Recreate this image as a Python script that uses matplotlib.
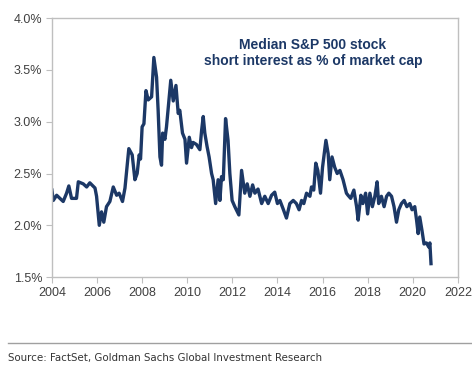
import matplotlib.pyplot as plt
from matplotlib.lines import Line2D

# median S&P 500 stock short interest, % of market cap
years = [2004.00, 2004.06, 2004.21, 2004.50, 2004.65, 2004.75, 2004.87, 2005.09, 2005.17,
         2005.39, 2005.54, 2005.68, 2005.91, 2005.98, 2006.10, 2006.20, 2006.30, 2006.42,
         2006.57, 2006.72, 2006.87, 2006.98, 2007.13, 2007.24, 2007.41, 2007.56, 2007.68,
         2007.78, 2007.87, 2007.93, 2008.00, 2008.08, 2008.17, 2008.27, 2008.42, 2008.52,
         2008.64, 2008.71, 2008.79, 2008.86, 2008.91, 2009.01, 2009.08, 2009.23, 2009.27,
         2009.38, 2009.50, 2009.60, 2009.67, 2009.79, 2009.90, 2009.97, 2010.09, 2010.19,
         2010.26, 2010.41, 2010.56, 2010.64, 2010.71, 2010.78, 2010.88, 2010.97, 2011.08,
         2011.15, 2011.26, 2011.37, 2011.45, 2011.52, 2011.60, 2011.70, 2011.81, 2011.89,
         2011.99, 2012.11, 2012.29, 2012.41, 2012.55, 2012.66, 2012.78, 2012.90, 2013.00,
         2013.14, 2013.30, 2013.44, 2013.59, 2013.74, 2013.88, 2014.00, 2014.11, 2014.25,
         2014.40, 2014.55, 2014.70, 2014.84, 2014.96, 2015.07, 2015.17, 2015.29, 2015.44,
         2015.51, 2015.61, 2015.70, 2015.79, 2015.91, 2016.00, 2016.15, 2016.25, 2016.32,
         2016.42, 2016.54, 2016.65, 2016.77, 2016.91, 2017.06, 2017.13, 2017.25, 2017.39,
         2017.51, 2017.58, 2017.70, 2017.79, 2017.91, 2018.00, 2018.10, 2018.21, 2018.32,
         2018.42, 2018.49, 2018.61, 2018.73, 2018.84, 2018.94, 2019.06, 2019.17, 2019.28,
         2019.38, 2019.50, 2019.62, 2019.74, 2019.87, 2019.97, 2020.09, 2020.17, 2020.24,
         2020.31, 2020.41, 2020.50, 2020.61, 2020.71, 2020.76, 2020.81]
short_int = [2.34, 2.24, 2.29, 2.23, 2.31, 2.38, 2.26, 2.26, 2.42,
             2.40, 2.37, 2.41, 2.36, 2.28, 2.00, 2.13, 2.03, 2.18,
             2.23, 2.37, 2.29, 2.31, 2.23, 2.36, 2.74, 2.68, 2.44,
             2.50, 2.68, 2.64, 2.95, 2.98, 3.30, 3.21, 3.24, 3.62,
             3.43, 3.11, 2.66, 2.58, 2.89, 2.83, 2.95, 3.30, 3.40,
             3.20, 3.35, 3.08, 3.11, 2.89, 2.83, 2.60, 2.85, 2.75,
             2.80, 2.78, 2.73, 2.92, 3.05, 2.89, 2.76, 2.66, 2.50,
             2.44, 2.21, 2.44, 2.24, 2.47, 2.44, 3.03, 2.82, 2.50,
             2.24, 2.18, 2.10, 2.53, 2.31, 2.40, 2.28, 2.39, 2.31,
             2.35, 2.21, 2.28, 2.21, 2.29, 2.32, 2.21, 2.24, 2.16,
             2.07, 2.21, 2.24, 2.21, 2.15, 2.24, 2.21, 2.31, 2.28,
             2.37, 2.34, 2.60, 2.53, 2.31, 2.56, 2.82, 2.69, 2.44,
             2.66, 2.56, 2.50, 2.53, 2.44, 2.31, 2.29, 2.26, 2.34,
             2.18, 2.05, 2.29, 2.21, 2.31, 2.11, 2.31, 2.18, 2.28,
             2.42, 2.21, 2.28, 2.18, 2.28, 2.31, 2.28, 2.18, 2.03,
             2.15, 2.21, 2.24, 2.18, 2.21, 2.15, 2.18, 2.05, 1.92,
             2.08, 1.95, 1.82, 1.83, 1.79, 1.83, 1.63]

xticks = list(range(2004, 2023, 2))
yticks = [1.5, 2.0, 2.5, 3.0, 3.5, 4.0]

navy = '#1c3866'
grey = '#bfbfbf'

plt.rcParams['font.family'] = ['Liberation Sans', 'DejaVu Sans']

fig = plt.figure(figsize=(4.72, 3.69), dpi=100)
ax = fig.add_axes([0.110, 0.249, 0.860, 0.702])

ax.plot(years, short_int, color=navy, lw=2.4, solid_joinstyle='round')

ax.set_xlim(2004, 2022)
ax.set_ylim(1.5, 4.0)
ax.set_xticks(xticks)
ax.set_yticks(yticks)
ax.set_yticklabels(['%.1f%%' % v for v in yticks])
ax.tick_params(axis='both', direction='out', length=4, color=grey,
               labelsize=9, labelcolor='#404040', pad=3)
for s in ax.spines.values():
    s.set_color(grey)
    s.set_linewidth(1.0)

ax.text(0.643, 0.865, 'Median S&P 500 stock\nshort interest as % of market cap',
        transform=ax.transAxes, ha='center', va='center', fontsize=10,
        fontweight='bold', color=navy, linespacing=1.15)

fig.add_artist(Line2D([8 / 472, 1.0], [1 - 343 / 369] * 2, color='#a0a0a0', lw=1.0))
fig.text(8 / 472, 1 - 358 / 369, 'Source: FactSet, Goldman Sachs Global Investment Research',
         ha='left', va='center', fontsize=8.2, color='#333333',
         family='DejaVu Sans', stretch='condensed')

fig.savefig('out.png', dpi=100)
